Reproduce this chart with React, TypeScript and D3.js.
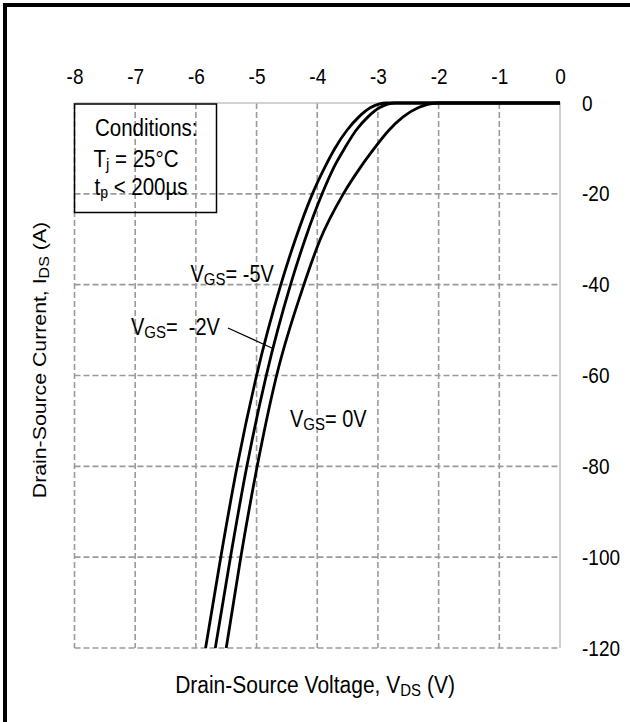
import * as d3 from 'd3'
import { useRef, useEffect } from 'react'

// drain current steps (A), shared by the three curves; the last pair is the flat part at 0
const currentSteps = [-120, -100, -80, -60, -40, -30, -20, -14, -10, -6, -3, -1, 0, 0]
// drain-source voltage (V) read for each gate voltage
const vgsMinus5 = [-5.84, -5.59, -5.32, -5.0, -4.6, -4.36, -4.08, -3.87, -3.71, -3.51, -3.31, -3.12, -2.86, 0]
const vgsMinus2 = [-5.68, -5.43, -5.16, -4.84, -4.44, -4.2, -3.92, -3.72, -3.55, -3.36, -3.16, -2.97, -2.71, 0]
const vgs0 = [-5.5, -5.26, -4.99, -4.67, -4.22, -3.95, -3.57, -3.28, -3.06, -2.82, -2.58, -2.33, -2.0, 0]

const xTicks = [-8, -7, -6, -5, -4, -3, -2, -1, 0]
const yTicks = [0, -20, -40, -60, -80, -100, -120]

const FONT = '"Liberation Sans", Arial, sans-serif'
const STRETCH = 1.15

export default function App() {
  const svgRef = useRef(null)
  const svgWidth = 630
  const svgHeight = 722

  useEffect((): void => {
    const SVG = d3.select(svgRef.current)
    SVG.selectAll('*').remove()
    SVG.attr('width', svgWidth).attr('height', svgHeight)

    const xScale = d3.scaleLinear().domain([-8, 0]).range([74.5, 560])
    const yScale = d3.scaleLinear().domain([0, -120]).range([103, 648])

    SVG.append('rect')
      .attr('width', svgWidth).attr('height', svgHeight)
      .attr('fill', '#fff')

    // outer frame (only top and left fall inside the picture)
    SVG.append('path')
      .attr('d', `M5,${svgHeight} L5,5 L${svgWidth},5`)
      .attr('fill', 'none')
      .attr('stroke', '#000')
      .attr('stroke-width', 4)

    // dashed grid
    SVG.append('g')
      .selectAll('line')
      .data(xTicks.filter(d => d !== 0))
      .enter()
      .append('line')
      .attr('x1', d => xScale(d)).attr('x2', d => xScale(d))
      .attr('y1', yScale(0)).attr('y2', yScale(-120))
      .attr('stroke', '#9a9a9a').attr('stroke-width', 1.6)
      .attr('stroke-dasharray', '6,3')
    SVG.append('g')
      .selectAll('line')
      .data(yTicks.filter(d => d !== 0))
      .enter()
      .append('line')
      .attr('x1', xScale(-8)).attr('x2', xScale(0))
      .attr('y1', d => yScale(d)).attr('y2', d => yScale(d))
      .attr('stroke', '#9a9a9a').attr('stroke-width', 1.6)
      .attr('stroke-dasharray', '6,3')

    // top and right solid borders
    SVG.append('path')
      .attr('d', `M${xScale(-8)},${yScale(0)} L${xScale(0)},${yScale(0)} L${xScale(0)},${yScale(-120)}`)
      .attr('fill', 'none')
      .attr('stroke', '#c4c4c4').attr('stroke-width', 1.6)

    // tick labels
    const xAxis = d3.axisTop(xScale).tickValues(xTicks).tickSize(0).tickFormat(d => String(d))
    const yAxis = d3.axisRight(yScale).tickValues(yTicks).tickSize(0).tickFormat(d => String(d))

    const gx = SVG.append('g').attr('transform', `translate(0,${yScale(0)})`).call(xAxis)
    const gy = SVG.append('g').attr('transform', `translate(${xScale(0)},0)`).call(yAxis)
    gx.selectAll('text')
      .attr('y', 0).attr('dy', 0)
      .attr('transform', `translate(0,-19.5) scale(1,${STRETCH})`)
    gy.selectAll('text')
      .attr('x', 0)
      .attr('transform', `translate(22,0) scale(1,${STRETCH})`)
    for (const g of [gx, gy]) {
      g.select('.domain').remove()
      g.selectAll('text')
        .attr('font-family', FONT)
        .attr('font-size', 19)
        .attr('fill', '#000')
    }

    // curves
    const line = d3.line<[number, number]>()
      .x(d => xScale(d[0]))
      .y(d => yScale(d[1]))
      .curve(d3.curveMonotoneX)

    for (const series of [vgsMinus5, vgsMinus2, vgs0]) {
      const pts: [number, number][] = series.map((v, i) => [v, currentSteps[i]])
      SVG.append('path')
        .attr('d', line(pts))
        .attr('fill', 'none')
        .attr('stroke', '#000')
        .attr('stroke-width', 2.8)
    }

    // conditions box
    SVG.append('rect')
      .attr('x', xScale(-8)).attr('y', 104)
      .attr('width', 142).attr('height', 108.5)
      .attr('fill', 'none')
      .attr('stroke', '#000').attr('stroke-width', 1.5)

    const txt = (x: number, y: number, size = 20) =>
      SVG.append('text')
        .attr('transform', `translate(${x},${y}) scale(1,${STRETCH})`)
        .attr('font-family', FONT)
        .attr('font-size', size)
        .attr('fill', '#000')

    txt(95, 135.5, 20.5).text('Conditions:')
    const t1 = txt(93.5, 166.5, 20.5)
    t1.append('tspan').text('T')
    t1.append('tspan').attr('font-size', 15).attr('dy', 3).text('j')
    t1.append('tspan').attr('dy', -3).text(' = 25°C')
    const t2 = txt(94.5, 194.5, 20.5)
    t2.append('tspan').text('t')
    t2.append('tspan').attr('font-size', 14).attr('dy', 3).text('p')
    t2.append('tspan').attr('dy', -3).text(' < 200µs')

    const vgsLabel = (x: number, y: number, rest: string) => {
      const t = txt(x, y)
      t.append('tspan').text('V')
      t.append('tspan').attr('font-size', 15).attr('dy', 3).text('GS')
      t.append('tspan').attr('dy', -3).text(rest)
    }
    vgsLabel(190.5, 281.5, '= -5V')
    vgsLabel(131, 335, '=\u00a0 -2V')
    vgsLabel(290, 426.5, '= 0V')

    SVG.append('line')
      .attr('x1', 228).attr('y1', 328)
      .attr('x2', 273).attr('y2', 348.5)
      .attr('stroke', '#000').attr('stroke-width', 1.2)

    // axis titles
    const bt = txt(315, 693, 21).attr('text-anchor', 'middle')
    bt.append('tspan').text('Drain-Source Voltage, V')
    bt.append('tspan').attr('font-size', 15).attr('dy', 3).text('DS')
    bt.append('tspan').attr('dy', -3).text(' (V)')

    const lt = SVG.append('text')
      .attr('transform', `translate(46,360) scale(1,${STRETCH}) rotate(-90)`)
      .attr('text-anchor', 'middle')
      .attr('font-family', FONT)
      .attr('font-size', 18.5)
      .attr('fill', '#000')
    lt.append('tspan').text('Drain-Source Current, I')
    lt.append('tspan').attr('font-size', 14).attr('dy', 3).text('DS')
    lt.append('tspan').attr('dy', -3).text(' (A)')
  }, [])

  return (
    <svg ref={svgRef} style={{ position: 'absolute', left: 0, top: 0, display: 'block' }}></svg>
  )
}
